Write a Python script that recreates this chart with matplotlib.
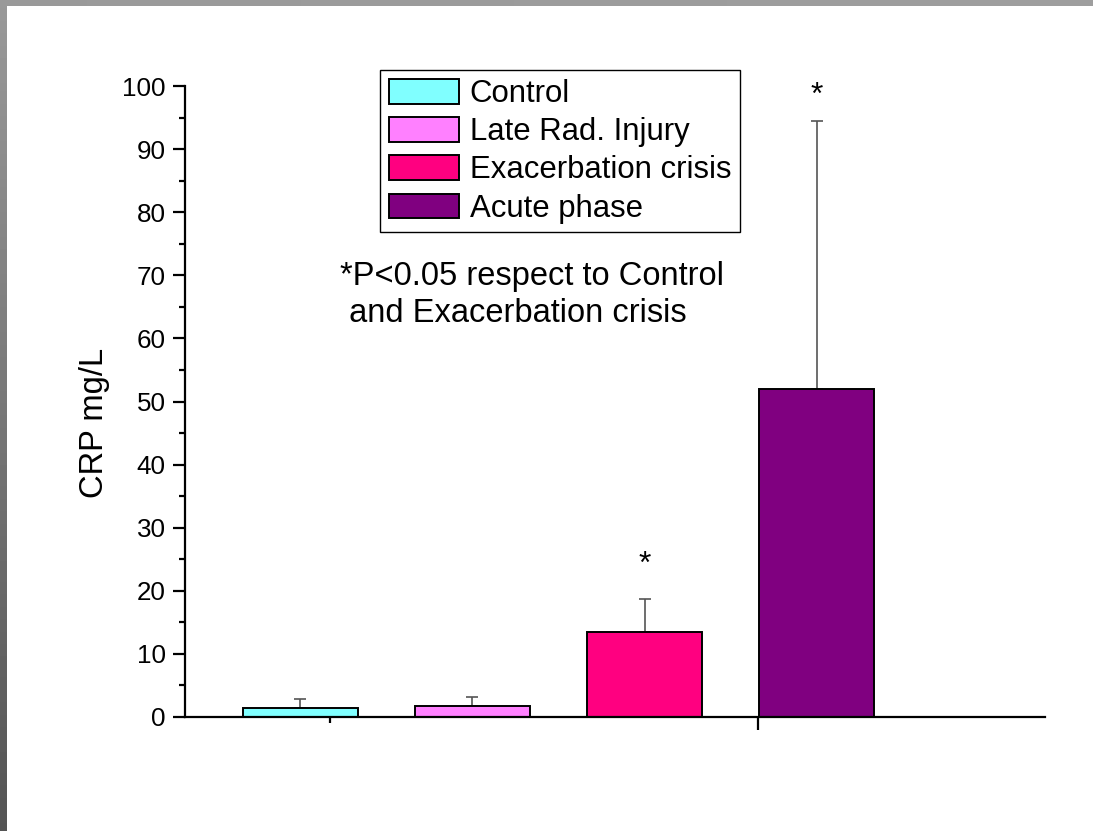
import matplotlib
matplotlib.use("Agg")
import matplotlib.pyplot as plt
import numpy as np
from matplotlib.ticker import MultipleLocator, FixedLocator, NullFormatter

plt.rcParams['font.family'] = ['Liberation Sans', 'DejaVu Sans']

# data
groups = ["Control", "Late Rad. Injury", "Exacerbation crisis", "Acute phase"]
means = [1.4, 1.75, 13.5, 52.0]
errors = [1.45, 1.45, 5.2, 42.5]
colors = ["#80ffff", "#ff80ff", "#ff0080", "#800080"]
stars = ["", "", "*", "*"]
star_y = [0, 0, 21.7, 96.1]

fig = plt.figure(figsize=(10.93, 8.31), dpi=100)

# gray frame on top and left, as in the source image
band = fig.add_axes([0, 0, 7 / 1093, 1])
band.imshow(np.linspace(0.6, 0.33, 200).reshape(-1, 1), cmap="gray", vmin=0, vmax=1,
            aspect="auto", extent=[0, 1, 0, 1], origin="upper")
band.axis("off")
top = fig.add_axes([0, 1 - 6 / 831, 1, 6 / 831])
top.imshow(np.linspace(0.6, 0.62, 200).reshape(1, -1), cmap="gray", vmin=0, vmax=1,
           aspect="auto", extent=[0, 1, 0, 1])
top.axis("off")

ax = fig.add_axes([185 / 1093, 1 - 717 / 831, (1045 - 185) / 1093, (717 - 86) / 831])

x = np.arange(len(groups))
bars = ax.bar(x, means, width=0.669, color=colors, edgecolor="black", linewidth=1.4,
              label=groups, zorder=2)
ax.errorbar(x, means, yerr=[np.zeros(len(means)), errors], fmt="none", ecolor="#555555",
            elinewidth=1.2, capsize=4.3, capthick=1.2, zorder=1)

for xi, sy, s in zip(x, star_y, stars):
    if s:
        ax.text(xi, sy, s, ha="center", va="bottom", fontsize=23, clip_on=False)

ax.set_xlim(-0.671, 4.328)
ax.set_ylim(0, 100)

ax.spines["top"].set_visible(False)
ax.spines["right"].set_visible(False)
ax.spines["left"].set_linewidth(1.6)
ax.spines["bottom"].set_linewidth(1.6)

ax.yaxis.set_major_locator(MultipleLocator(10))
ax.yaxis.set_minor_locator(MultipleLocator(5))
ax.tick_params(axis="y", which="major", length=9, width=1.6, labelsize=18.7, pad=5)
ax.tick_params(axis="y", which="minor", length=4.5, width=1.6)

ax.xaxis.set_major_locator(FixedLocator([2.66]))
ax.xaxis.set_minor_locator(FixedLocator([0.171]))
ax.xaxis.set_major_formatter(NullFormatter())
ax.tick_params(axis="x", which="major", length=9, width=1.6)
ax.tick_params(axis="x", which="minor", length=4.5, width=1.6)

ax.set_ylabel("CRP mg/L", fontsize=23.6)
ax.yaxis.set_label_coords(-0.0872, 0.466)

ax.text(0.23, 69.8, "*P<0.05 respect to Control", fontsize=23.5, va="center", ha="left")
ax.text(0.23, 64.0, " and Exacerbation crisis", fontsize=23.5, va="center", ha="left")

leg = ax.legend(loc="upper left", bbox_to_anchor=(380 / 1093, 1 - 70 / 831),
                bbox_transform=fig.transFigure, fontsize=22.4, frameon=True, fancybox=False,
                edgecolor="black", framealpha=1, borderaxespad=0, borderpad=0.28,
                handlelength=2.25, handleheight=0.85, handletextpad=0.35, labelspacing=0.26)
leg.get_frame().set_linewidth(1.0)

fig.savefig("out.png", dpi=100)
